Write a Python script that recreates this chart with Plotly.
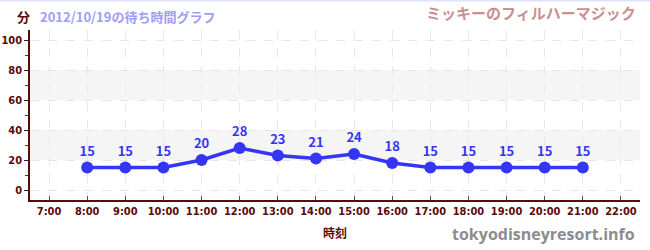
import plotly.graph_objects as go

hours = [8, 9, 10, 11, 12, 13, 14, 15, 16, 17, 18, 19, 20, 21]
waits = [15, 15, 15, 20, 28, 23, 21, 24, 18, 15, 15, 15, 15, 15]
tick_hours = list(range(7, 23))
tick_labels = [f"{h}:00" for h in tick_hours]
y_ticks = [0, 20, 40, 60, 80, 100]
bands = [(20, 40), (60, 80)]

MAROON = "#5c0a0a"
FONT = "Noto Sans CJK JP"

fig = go.Figure()
for b0, b1 in bands:
    fig.add_shape(type="rect", xref="paper", yref="y", x0=0, x1=1, y0=b0, y1=b1,
                  fillcolor="#f5f5f5", line_width=0, layer="below")

fig.add_trace(go.Scatter(
    x=hours, y=waits, mode="lines+markers+text",
    line=dict(color="#3535f5", width=3.5),
    marker=dict(color="#3535f5", size=12),
    text=[str(v) for v in waits], textposition="top center",
    textfont=dict(color="#3535f5", size=13, family=FONT, weight="bold"),
    cliponaxis=False, hoverinfo="skip",
))

fig.update_layout(
    width=650, height=250,
    margin=dict(l=30, r=10, t=30, b=50, autoexpand=False),
    plot_bgcolor="white", paper_bgcolor="white",
    showlegend=False,
    font=dict(family=FONT, color=MAROON),
)
fig.update_xaxes(
    range=[6.5, 22.5], tickvals=tick_hours, ticktext=tick_labels, automargin=False,
    showgrid=True, gridcolor="#e6e6e6", griddash="dash", gridwidth=1,
    showline=True, linecolor=MAROON, linewidth=1.5,
    ticks="inside", ticklen=4, tickcolor="#555",
    tickfont=dict(size=11, color=MAROON, family="DejaVu Sans Condensed", weight="bold"),
    zeroline=False,
)
fig.update_yaxes(
    range=[-6.67, 106.67], tickvals=y_ticks, automargin=False,
    showgrid=True, gridcolor="#e6e6e6", griddash="dash", gridwidth=1,
    showline=True, linecolor=MAROON, linewidth=1.5,
    ticks="outside", ticklen=4, tickcolor="#222",
    tickfont=dict(size=11, color=MAROON, family="DejaVu Sans Condensed", weight="bold"),
    minor=dict(tickvals=[10, 30, 50, 70, 90], ticks="outside", ticklen=3, tickcolor="#d00000", showgrid=False),
    zeroline=False,
)

fig.add_shape(type="line", xref="paper", yref="paper", x0=-1, x1=2, y0=1.173, y1=1.173,
              line=dict(color="#e0e0ff", width=2))

fig.add_annotation(xref="paper", yref="paper", x=-0.01, y=1.08, xanchor="center", yanchor="middle",
                   text="<b>分</b>", showarrow=False, font=dict(size=13, color=MAROON, family=FONT))
fig.add_annotation(xref="paper", yref="paper", x=0.013, y=1.08, xanchor="left", yanchor="middle",
                   text="<b>2012/10/19の待ち時間グラフ</b>", showarrow=False,
                   font=dict(size=13, color="#9e9ef5", family=FONT))
fig.add_annotation(xref="paper", yref="paper", x=0.997, y=1.1, xanchor="right", yanchor="middle",
                   text="<b>ミッキーのフィルハーマジック</b>", showarrow=False,
                   font=dict(size=15, color="#c99090", family=FONT))
fig.add_annotation(xref="paper", yref="paper", x=0.5, y=-0.19, xanchor="center", yanchor="middle",
                   text="<b>時刻</b>", showarrow=False, font=dict(size=12, color=MAROON, family=FONT))
fig.add_annotation(xref="paper", yref="paper", x=0.995, y=-0.2, xanchor="right", yanchor="middle",
                   text="<b>tokyodisneyresort.info</b>", showarrow=False,
                   font=dict(size=16, color="#8c8c8c", family="Open Sans"))

fig.write_html("out.html")
